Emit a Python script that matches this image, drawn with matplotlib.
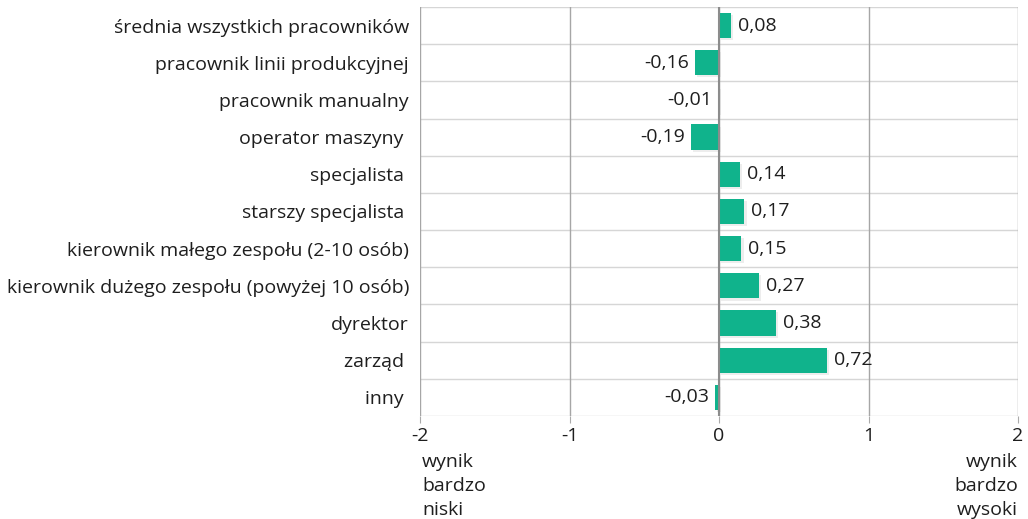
import matplotlib.pyplot as plt
import matplotlib.patheffects as pe
import numpy as np

plt.rcParams['font.family'] = ['Open Sans', 'DejaVu Sans']

categories = ["średnia wszystkich pracowników", "pracownik linii produkcyjnej",
              "pracownik manualny", "operator maszyny ", "specjalista ",
              "starszy specjalista ", "kierownik małego zespołu (2-10 osób)",
              "kierownik dużego zespołu (powyżej 10 osób)", "dyrektor", "zarząd ", "inny "]
values = [0.08, -0.16, -0.01, -0.19, 0.14, 0.17, 0.15, 0.27, 0.38, 0.72, -0.03]
xticks = [-2, -1, 0, 1, 2]

green = '#10b38c'
txt = '#1e1e1e'
fs = 14

fig = plt.figure(figsize=(10.28, 5.19), dpi=100)
ax = fig.add_axes([0.4086, 0.1985, 0.5817, 0.788])

y = np.arange(len(categories))
bars = ax.barh(y, values, height=0.68, color=green, zorder=3)
for b in bars:
    b.set_path_effects([pe.SimplePatchShadow(offset=(1.5, -1.5), shadow_rgbFace='#bbbbbb', alpha=0.25),
                        pe.Normal()])

for yi, v in zip(y, values):
    s = f"{v:.2f}".replace('.', ',')
    if v >= 0:
        ax.annotate(s, (v, yi), xytext=(5, 0), textcoords='offset points',
                    ha='left', va='center', fontsize=fs, color=txt)
    else:
        ax.annotate(s, (v, yi), xytext=(-4, 0), textcoords='offset points',
                    ha='right', va='center', fontsize=fs, color=txt)

ax.set_xlim(-2, 2)
ax.set_ylim(len(categories) - 0.5, -0.5)
ax.set_yticks(y)
ax.set_yticklabels(categories, fontsize=fs, color=txt)
ax.set_xticks(xticks)
ax.set_xticklabels([str(t) for t in xticks], fontsize=fs, color=txt)
ax.tick_params(axis='y', length=0, pad=8)
ax.tick_params(axis='x', length=5, color='#aaaaaa', pad=3)

# row separators and vertical grid
for yb in np.arange(-0.5, len(categories), 1.0):
    ax.axhline(yb, color='#d6d6d6', lw=1, zorder=1)
for xt in xticks:
    ax.axvline(xt, color='#a6a6a6', lw=1, zorder=1)
ax.axvline(0, color='#8c8c8c', lw=1.5, zorder=4)

for sp in ax.spines.values():
    sp.set_visible(False)

fig.text(422 / 1028, 1 - 486 / 519, "wynik\nbardzo\nniski", ha='left', va='center',
         fontsize=fs, color=txt, linespacing=1.45)
fig.text(1018 / 1028, 1 - 486 / 519, "wynik\nbardzo\nwysoki", ha='right', va='center',
         fontsize=fs, color=txt, linespacing=1.45, multialignment='right')

fig.savefig('out.png', dpi=100)
